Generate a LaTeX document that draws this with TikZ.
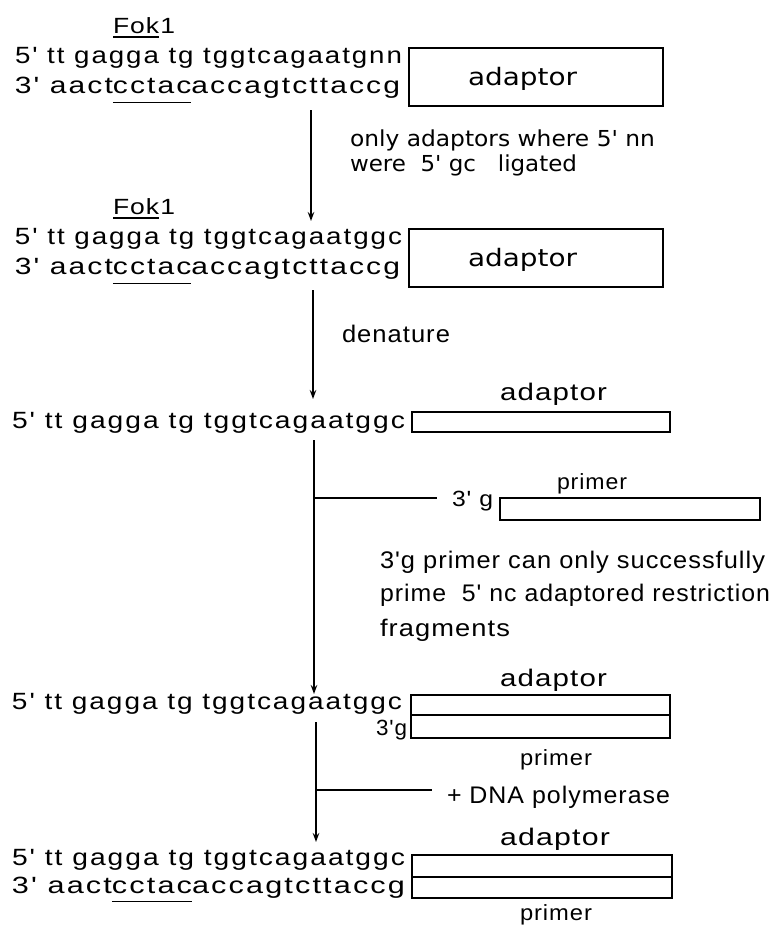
\documentclass[tikz,border=0pt]{standalone}
\usepackage{fontspec}
\usepackage{graphicx}
\setmainfont{Liberation Sans}
\newfontfamily\seqf[LetterSpace=7]{Liberation Sans}
\newfontfamily\lblf[LetterSpace=4]{Liberation Sans}
\newfontfamily\dvf{DejaVu Sans}
\usetikzlibrary{arrows.meta}
\newsavebox\fitbox
\newsavebox\ulbox
\newdimen\fitdim
\newcommand\fitw[2]{\sbox\fitbox{#2}\fitdim=\wd\fitbox
  \ifdim\fitdim>1pt\pgfmathsetmacro\fitf{#1/\the\fitdim}\else\def\fitf{1}\fi
  \scalebox{\fitf}[1]{\usebox\fitbox}}
\newcommand\ulb[2]{\sbox\ulbox{#2}\rlap{\rule[-#1pt]{\wd\ulbox}{1.4pt}}\usebox\ulbox}
\newcommand\sqsz{\fontsize{23.5}{25}\selectfont}
\newcommand\lbsz{\fontsize{24}{26}\selectfont}
\tikzset{
  seq/.style={anchor=base west, inner sep=0pt, outer sep=0pt},
  lab/.style={anchor=base west, inner sep=0pt, outer sep=0pt},
  ulline/.style={line width=1.4pt},
  boxst/.style={draw, line width=1.8pt, inner sep=0pt, outer sep=0pt, anchor=north west},
  arr/.style={line width=1.8pt, -{Stealth[length=9pt,width=6.5pt]}},
  branch/.style={line width=1.8pt},
}
\begin{document}
\begin{tikzpicture}[x=1pt,y=-1pt]
\useasboundingbox (0,0) rectangle (771,929);
\fill[white] (0,0) rectangle (771,929);

% ---------- block 1
\node[seq] (fok1) at (113,33) {\fitw{62}{\lblf\fontsize{22}{24}\selectfont Fok1}};
\draw[ulline] ([yshift=-4pt]fok1.base west) -- ++(46,0);
\node[seq] (s1t) at (15,63) {\fitw{387}{\seqf\sqsz 5' tt gagga tg tggtcagaatgnn}};
\node[seq] (s1b) at (15,93) {\fitw{385}{\seqf\sqsz 3' aact\ulb{10}{cctac}accagtcttaccg}};
\node[boxst, minimum width=254pt, minimum height=58pt] (box1) at (409,48) {};
\node[lab] (ad1) at (468,85) {\fitw{109}{\dvf\fontsize{24}{26}\selectfont adaptor}};

\coordinate (a1s) at (311,110);
\coordinate (a1e) at (311,221);
\draw[arr] (a1s) -- (a1e);
\node[lab] (t1a) at (350,146) {\fitw{305}{\dvf\fontsize{22}{24}\selectfont only adaptors where 5' nn}};
\node[lab] (t1b) at (350,171) {\fitw{227}{\dvf\fontsize{22}{24}\selectfont were\ \ 5' gc\ \ \ ligated}};

% ---------- block 2
\node[seq] (fok2) at (113,214) {\fitw{62}{\lblf\fontsize{22}{24}\selectfont Fok1}};
\draw[ulline] ([yshift=-4pt]fok2.base west) -- ++(46,0);
\node[seq] (s2t) at (15,244) {\fitw{387}{\seqf\sqsz 5' tt gagga tg tggtcagaatggc}};
\node[seq] (s2b) at (15,274) {\fitw{385}{\seqf\sqsz 3' aact\ulb{10}{cctac}accagtcttaccg}};
\node[boxst, minimum width=254pt, minimum height=58pt] (box2) at (409,229) {};
\node[lab] (ad2) at (468,266) {\fitw{109}{\dvf\fontsize{24}{26}\selectfont adaptor}};

\coordinate (a2s) at (313,290);
\coordinate (a2e) at (313,399);
\draw[arr] (a2s) -- (a2e);
\node[lab] (den) at (342,342) {\fitw{108}{\lblf\lbsz denature}};

% ---------- block 3
\node[lab] (ad3) at (500,400) {\fitw{107}{\lblf\lbsz adaptor}};
\node[seq] (s3) at (12,428) {\fitw{393}{\seqf\sqsz 5' tt gagga tg tggtcagaatggc}};
\node[boxst, minimum width=258pt, minimum height=20pt] (box3) at (412,412) {};

\coordinate (a3s) at (314,440);
\coordinate (a3e) at (314,694);
\draw[arr] (a3s) -- (a3e);
\coordinate (b3s) at (314,498);
\coordinate (b3e) at (437,498);
\draw[branch] (b3s) -- (b3e);
\node[lab] (pr3) at (557,489) {\fitw{70}{\lblf\fontsize{22}{24}\selectfont primer}};
\node[lab] (g3) at (452,506) {\fitw{41}{\lblf\fontsize{22}{24}\selectfont 3' g}};
\node[boxst, minimum width=260pt, minimum height=22pt] (pbox) at (500,498) {};

\node[lab] (p1) at (380,568) {\fitw{385}{\lblf\lbsz 3'g primer can only successfully}};
\node[lab] (p2) at (380,601) {\fitw{390}{\lblf\lbsz prime\ \ 5' nc adaptored restriction}};
\node[lab] (p3) at (380,636) {\fitw{130}{\lblf\lbsz fragments}};

% ---------- block 4
\node[lab] (ad4) at (500,686) {\fitw{107}{\lblf\lbsz adaptor}};
\node[seq] (s4) at (12,709) {\fitw{390}{\seqf\sqsz 5' tt gagga tg tggtcagaatggc}};
\node[boxst, minimum width=259pt, minimum height=20pt] (box4a) at (411,695) {};
\node[boxst, minimum width=259pt, minimum height=23pt] (box4b) at (411,715) {};
\node[lab] (g4) at (376,735) {\fitw{31}{\lblf\fontsize{22}{24}\selectfont 3'g}};
\node[lab] (pr4) at (520,765) {\fitw{72}{\lblf\fontsize{22}{24}\selectfont primer}};

\coordinate (a4s) at (316,722);
\coordinate (a4e) at (316,842);
\draw[arr] (a4s) -- (a4e);
\coordinate (b4s) at (316,790);
\coordinate (b4e) at (432,790);
\draw[branch] (b4s) -- (b4e);
\node[lab] (dna) at (447,803) {\fitw{223}{\lblf\lbsz + DNA polymerase}};

% ---------- block 5
\node[lab] (ad5) at (500,845) {\fitw{110}{\lblf\lbsz adaptor}};
\node[seq] (s5a) at (12,865) {\fitw{393}{\seqf\sqsz 5' tt gagga tg tggtcagaatggc}};
\node[seq] (s5b) at (12,893) {\fitw{393}{\seqf\sqsz 3' aact\ulb{9}{cctac}accagtcttaccg}};
\node[boxst, minimum width=260pt, minimum height=22pt] (box5a) at (412,855) {};
\node[boxst, minimum width=260pt, minimum height=21pt] (box5b) at (412,877) {};
\node[lab] (pr5) at (520,920) {\fitw{72}{\lblf\fontsize{22}{24}\selectfont primer}};
\end{tikzpicture}
\end{document}
